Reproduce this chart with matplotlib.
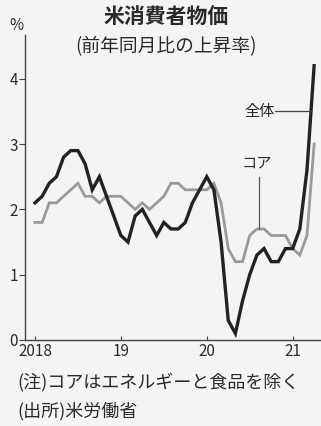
import numpy as np
import matplotlib
matplotlib.use("Agg")
import matplotlib.pyplot as plt

plt.rcParams['font.family'] = ['Noto Sans CJK JP', 'DejaVu Sans']

# 前年同月比（%）、2018年1月〜2021年4月
headline = [2.1, 2.2, 2.4, 2.5, 2.8, 2.9, 2.9, 2.7, 2.3, 2.5, 2.2, 1.9,
            1.6, 1.5, 1.9, 2.0, 1.8, 1.6, 1.8, 1.7, 1.7, 1.8, 2.1, 2.3,
            2.5, 2.3, 1.5, 0.3, 0.1, 0.6, 1.0, 1.3, 1.4, 1.2, 1.2, 1.4,
            1.4, 1.7, 2.6, 4.2]
core = [1.8, 1.8, 2.1, 2.1, 2.2, 2.3, 2.4, 2.2, 2.2, 2.1, 2.2, 2.2,
        2.2, 2.1, 2.0, 2.1, 2.0, 2.1, 2.2, 2.4, 2.4, 2.3, 2.3, 2.3,
        2.3, 2.4, 2.1, 1.4, 1.2, 1.2, 1.6, 1.7, 1.7, 1.6, 1.6, 1.6,
        1.4, 1.3, 1.6, 3.0]
start_year = 2018
year_ticks = [2018, 2019, 2020, 2021]
year_labels = ["2018", "19", "20", "21"]
y_ticks = [0, 1, 2, 3, 4]

t = start_year + np.arange(len(headline)) / 12

W, H = 321, 426
fig = plt.figure(figsize=(W / 100, H / 100), dpi=100)
bg = "#f4f4f2"
fig.patch.set_facecolor(bg)
ink = "#2a2a2a"

ax = fig.add_axes([25 / W, (H - 340) / H, (W - 25) / W, (340 - 35) / H])
ax.set_facecolor(bg)
ax.plot(t, core, color="#9a9a9a", lw=2.0, solid_joinstyle="miter")
ax.plot(t, headline, color="#222222", lw=2.4, solid_joinstyle="miter")

ax.set_xlim(2017.884, 2021.33)
ax.set_ylim(0, 4.67)
for s in ("top", "right"):
    ax.spines[s].set_visible(False)
for s in ("left", "bottom"):
    ax.spines[s].set_color("#444444")
    ax.spines[s].set_linewidth(1.0)

ax.set_xticks(year_ticks)
ax.set_xticklabels(year_labels)
ax.set_yticks(y_ticks)
ax.tick_params(axis="x", direction="in", length=3, pad=2, labelsize=11,
               colors="#444444", labelcolor=ink)
ax.tick_params(axis="y", direction="out", length=4, pad=1, labelsize=11,
               colors="#444444", labelcolor=ink)

# 系列名と引き出し線
y_lab = 3.5
x_cross = np.interp(y_lab, headline[-2:], t[-2:])
ax.plot([2020.8, x_cross], [y_lab, y_lab], color="#444444", lw=0.9)
ax.text(2020.79, y_lab, "全体", ha="right", va="center", fontsize=11, color=ink)

i_core = 31
x_core = t[i_core] + 0.03
ax.plot([x_core, x_core], [core[i_core], 2.5], color="#555555", lw=0.9)
ax.text(x_core - 0.03, 2.58, "コア", ha="center", va="bottom", fontsize=11, color=ink)

fig.text(166 / W, 1 - 17 / H, "米消費者物価", ha="center", va="center",
         fontsize=15, fontweight="bold", color=ink)
fig.text(166 / W, 1 - 47 / H, "(前年同月比の上昇率)", ha="center", va="center",
         fontsize=13.5, color=ink)
fig.text(16 / W, 1 - 26 / H, "%", ha="center", va="center", fontsize=11, color=ink)

fig.text(17 / W, 1 - 382 / H, "(注)コアはエネルギーと食品を除く", ha="left", va="center",
         fontsize=13, color=ink)
fig.text(17 / W, 1 - 411 / H, "(出所)米労働省", ha="left", va="center",
         fontsize=13, color=ink)

fig.savefig("out.png", dpi=100, facecolor=bg)
